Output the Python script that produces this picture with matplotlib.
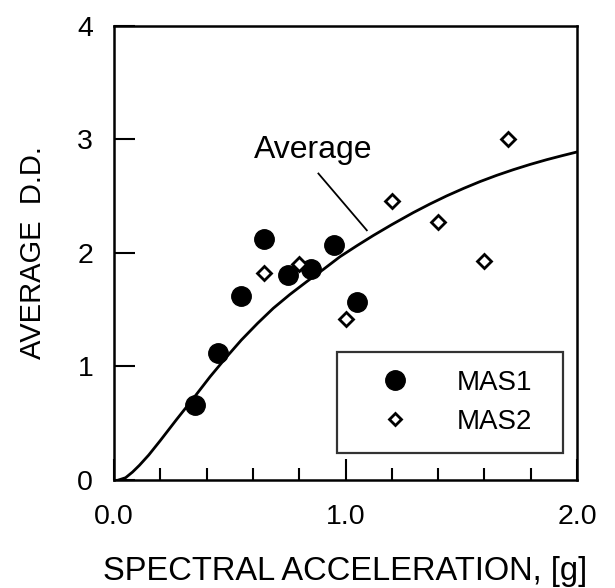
import matplotlib
matplotlib.use("Agg")
import matplotlib.pyplot as plt
from matplotlib.ticker import MultipleLocator, FormatStrFormatter

plt.rcParams['font.family'] = ['Liberation Sans', 'DejaVu Sans']

# data
mas1_x = [0.35, 0.45, 0.55, 0.65, 0.75, 0.85, 0.95, 1.05]
mas1_y = [0.66, 1.12, 1.62, 2.12, 1.81, 1.86, 2.07, 1.57]
mas2_x = [0.65, 0.80, 1.00, 1.20, 1.40, 1.60, 1.70]
mas2_y = [1.82, 1.90, 1.42, 2.46, 2.27, 1.93, 3.00]

# "Average" curve, traced points
avg_x = [0.02, 0.05, 0.08, 0.11, 0.15, 0.199, 0.271, 0.343, 0.415, 0.487,
         0.55, 0.62, 0.688, 0.76, 0.832, 0.904, 0.976, 1.05, 1.12, 1.2,
         1.293, 1.365, 1.437, 1.51, 1.581, 1.653, 1.725, 1.797, 1.869, 1.935, 2.0]
avg_y = [0.0, 0.02, 0.07, 0.13, 0.22, 0.345, 0.535, 0.72, 0.91, 1.086,
         1.233, 1.38, 1.513, 1.635, 1.747, 1.855, 1.967, 2.065, 2.154, 2.25,
         2.356, 2.432, 2.503, 2.569, 2.629, 2.684, 2.734, 2.78, 2.822, 2.857, 2.89]

fig = plt.figure(figsize=(6.15, 5.88), dpi=100)
ax = fig.add_axes([0.1854, 0.1837, 0.7528, 0.7721])

ax.plot(avg_x, avg_y, color='black', lw=2.0, zorder=2)
ax.plot(mas1_x, mas1_y, 'o', color='black', ms=14, ls='none', label='MAS1', zorder=3)
ax.plot(mas2_x, mas2_y, 'D', mfc='white', mec='black', mew=2.0, ms=7.5, ls='none',
        label='MAS2', zorder=3)

# label with pointer
ax.text(0.86, 2.91, 'Average', fontsize=23, ha='center', va='center')
ax.plot([0.883, 1.092], [2.70, 2.20], color='black', lw=1.3)

ax.set_xlim(0, 2.0)
ax.set_ylim(0, 4)
ax.xaxis.set_major_locator(MultipleLocator(1.0))
ax.xaxis.set_minor_locator(MultipleLocator(0.2))
ax.yaxis.set_major_locator(MultipleLocator(1))
ax.xaxis.set_major_formatter(FormatStrFormatter('%.1f'))
ax.tick_params(axis='x', which='major', direction='in', length=15, width=1.5,
               labelsize=20.5, pad=17)
ax.tick_params(axis='x', which='minor', direction='in', length=8.5, width=1.5)
ax.tick_params(axis='y', which='major', direction='in', length=15, width=1.5,
               labelsize=20.5, pad=15)
for s in ax.spines.values():
    s.set_linewidth(1.8)

ax.set_xlabel('SPECTRAL ACCELERATION, [g]', fontsize=23.5, labelpad=19)
ax.set_ylabel('AVERAGE  D.D.', fontsize=21, labelpad=22)

leg = ax.legend(loc='center', bbox_to_anchor=(0.965, 0.227, 0.976, 0.91),
                bbox_transform=ax.transData, mode='expand', fontsize=20,
                frameon=True, fancybox=False, borderpad=0.65, handlelength=2.87,
                handletextpad=0.79, labelspacing=0.47, borderaxespad=0)
leg.get_frame().set_edgecolor('black')
leg.get_frame().set_linewidth(1.6)
leg.legend_handles[1].set_markersize(6.5)

fig.savefig('out.png', dpi=100)
